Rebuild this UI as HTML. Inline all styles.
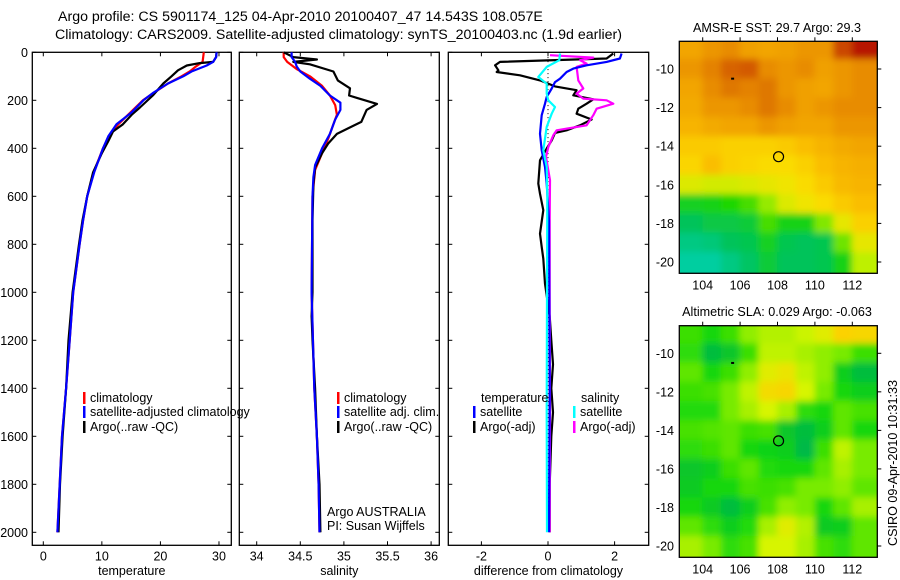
<!DOCTYPE html>
<html><head><meta charset="utf-8"><style>
html,body{margin:0;padding:0;background:#fff;}
svg{display:block;font-family:"Liberation Sans",sans-serif;}
text{fill:#000;}
</style></head><body>
<svg id="fig" width="900" height="580" viewBox="0 0 900 580" xmlns="http://www.w3.org/2000/svg">
<defs>
<filter id="smooth" x="-5%" y="-5%" width="110%" height="110%"><feGaussianBlur stdDeviation="3.5"/></filter>
<clipPath id="clipMap1"><rect x="680" y="41.5" width="197.5" height="232"/></clipPath>
<clipPath id="clipMap2"><rect x="680" y="326" width="197.5" height="231"/></clipPath>
</defs>
<text x="58" y="21" font-size="14.2">Argo profile: CS 5901174_125 04-Apr-2010 20100407_47 14.543S 108.057E</text>
<text x="55" y="39" font-size="14.2">Climatology: CARS2009. Satellite-adjusted climatology: synTS_20100403.nc (1.9d earlier)</text>
<g id="layer"></g>
<text x="777" y="32" font-size="12.6" text-anchor="middle">AMSR-E SST: 29.7 Argo: 29.3</text>
<text x="777" y="316" font-size="12.6" text-anchor="middle">Altimetric SLA: 0.029 Argo: -0.063</text>
<text transform="translate(897,463) rotate(-90)" font-size="12.6" text-anchor="middle">CSIRO 09-Apr-2010 10:31:33</text>
</svg>
<script>
// ---------- data ----------
const depthTicks = [0,200,400,600,800,1000,1200,1400,1600,1800,2000];
const tempTicks = [0,10,20,30];
const salTicks = [34,34.5,35,35.5,36];
const diffTicks = [-2,0,2];
const lonTicks = [104,106,108,110,112];
const latTicks = [-10,-12,-14,-16,-18,-20];

const tArgoDepth = [0,20,40,45,55,75,100,130,180,230,260,300,330,370,420,500,600,700,800,1000,1200,1400,1600,1800,2000];
const tArgo      = [29.6,29.5,29.0,26.7,24.5,23.0,21.9,20.5,18.7,16.5,15.1,13.6,11.9,11.1,10.0,8.5,7.5,6.7,6.1,5.0,4.3,3.9,3.3,2.85,2.6];
const tSatDepth  = [0,20,40,55,80,100,130,170,200,250,300,350,400,500,600,700,800,1000,1200,1400,1600,1800,2000];
const tSat       = [29.6,29.5,29.0,27.9,25.3,23.9,21.3,18.7,17.1,15.1,12.5,11.1,10.2,8.7,7.5,6.8,6.2,5.1,4.5,3.9,3.2,2.8,2.4];
const tClimDepth = [0,40,60,80,100,130,170,200,250,300,350,400,500,600,700,800,1000,1200,1400,1600,1800,2000];
const tClim      = [27.4,27.2,26.0,25.0,23.6,21.3,18.8,17.0,14.9,12.8,11.2,10.2,8.6,7.5,6.8,6.2,5.1,4.5,3.9,3.2,2.8,2.4];

const sArgoDepth = [0,20,30,40,50,80,117,150,180,190,215,240,290,320,340,380,420,480,550,700,1000,1100,1200,1400,1600,1800,2000];
const sArgo      = [34.31,34.42,34.69,34.42,34.61,34.88,34.93,35.07,35.06,35.15,35.38,35.26,35.2,35.03,34.92,34.82,34.75,34.67,34.65,34.64,34.64,34.63,34.64,34.67,34.69,34.72,34.73];
const sSatDepth  = [0,20,40,60,80,110,140,180,210,240,280,340,400,470,520,600,1000,1400,1600,1800,2000];
const sSat       = [34.40,34.40,34.44,34.46,34.50,34.61,34.73,34.84,34.96,34.96,34.90,34.84,34.75,34.67,34.65,34.64,34.63,34.66,34.69,34.71,34.72];
const sClimDepth = [0,20,40,70,100,140,180,220,260,300,360,420,490,600,1000,1400,1600,1800,2000];
const sClim      = [34.31,34.31,34.35,34.46,34.61,34.75,34.84,34.90,34.92,34.88,34.82,34.75,34.67,34.64,34.63,34.66,34.69,34.71,34.72];

const dTArgoDepth = [5,26,40,54,75,82,96,117,142,158,179,196,214,235,256,280,304,325,336,367,401,450,547,589,658,756,811,860,964,1100,1200,1300,1400,1500,1600,1800,2000];
const dTArgo      = [1.96,1.76,-1.44,-1.59,-1.49,-1.54,-0.84,-0.24,0.21,0.86,0.76,1.36,1.16,0.91,0.86,1.31,0.96,0.56,0.21,0.11,-0.04,-0.24,-0.29,-0.24,-0.14,-0.24,-0.19,-0.14,-0.09,0.05,0.1,0.15,0.1,0.15,0.1,0.05,0.05];
const dTSatDepth  = [5,26,40,54,68,82,110,124,151,186,214,262,339,408,478,547,700,1000,1400,2000];
const dTSat       = [2.21,2.16,1.76,1.16,0.76,0.56,0.36,0.21,0.11,-0.04,-0.09,-0.19,-0.24,-0.19,-0.09,-0.04,0.03,0.04,0.05,0.03];
const dSSatDepth  = [5,33,61,103,131,172,200,228,256,311,408,478,600,1000,1500,2000];
const dSSat       = [0.36,0.34,-0.04,-0.29,-0.04,-0.04,0.01,0.21,0.11,-0.04,-0.14,-0.04,-0.02,-0.03,-0.04,-0.03];
const dSArgoDepth = [12,22,33,47,61,117,151,172,193,200,214,235,262,304,325,346,395,436,533,700,1000,1500,2000];
const dSArgo      = [0.06,1.36,0.96,1.16,0.86,0.91,1.06,0.86,1.06,1.76,1.96,1.46,1.36,1.16,0.26,0.16,0.01,-0.06,0.06,0.05,0.05,0.06,0.05];

const mapLats = [-9,-10,-11,-12,-13,-14,-15,-16,-17,-18,-19,-20];
const mapLons = [103.5,104.5,105.5,106.5,107.5,108.5,109.5,110.5,111.5,112.5];
const sstGrid = [
 [4.3,4.5,4.6,4.4,4.3,4.4,4.5,4.5,5.3,5.8],
 [4.5,4.7,5.0,5.1,4.6,4.5,4.6,4.4,4.5,4.6],
 [4.3,4.6,4.8,4.7,4.8,4.5,4.4,4.3,4.5,4.6],
 [4.2,4.5,4.5,4.6,4.8,4.6,4.4,4.5,4.6,4.6],
 [4.0,4.2,4.3,4.3,4.5,4.4,4.3,4.3,4.5,4.5],
 [3.6,3.6,3.5,3.5,3.5,3.6,3.8,4.0,4.2,4.3],
 [3.4,3.8,3.5,3.4,3.3,3.3,3.5,3.8,4.0,4.1],
 [2.9,2.8,2.8,2.9,3.0,3.1,3.3,3.6,3.9,4.0],
 [1.5,1.6,1.8,2.0,2.4,2.9,3.1,3.3,3.6,3.8],
 [1.0,1.2,1.2,1.3,2.0,1.6,1.6,2.3,3.0,3.5],
 [0.6,0.7,1.0,1.1,1.5,1.1,1.0,1.1,2.2,3.0],
 [0.3,0.3,0.6,0.9,1.3,1.0,1.0,1.1,1.6,2.6]];
const slaGrid = [
 [1.5,1.2,1.5,2.2,2.5,2.5,2.7,3.0,3.8,3.5],
 [1.4,0.6,0.8,1.5,2.6,2.6,2.4,2.2,2.0,1.5],
 [1.8,1.2,1.5,2.2,3.0,3.2,2.6,2.2,1.0,0.6],
 [1.5,1.6,2.0,2.6,3.4,3.5,2.8,2.0,1.2,1.0],
 [1.3,1.3,2.0,2.4,2.8,2.4,1.4,1.2,1.8,1.6],
 [1.6,1.7,1.8,1.5,1.6,0.8,0.6,1.0,1.8,1.2],
 [1.4,1.5,1.8,1.2,1.1,1.0,0.5,1.5,2.6,2.0],
 [0.8,1.0,1.5,1.8,1.3,1.2,1.2,1.8,2.4,2.0],
 [0.9,1.2,1.2,1.6,1.5,1.6,2.0,2.0,2.2,1.8],
 [1.2,0.9,0.6,1.0,1.6,2.2,2.0,1.2,1.8,2.4],
 [1.8,1.4,1.0,1.3,2.4,3.0,2.5,0.9,1.0,1.8],
 [2.4,2.0,1.4,1.6,2.8,2.8,2.4,1.6,1.4,1.8]];
const floatLon = [108.057];
const floatLat = [-14.543];

// ---------- drawing ----------
const NS = 'http://www.w3.org/2000/svg';
const layer = document.getElementById('layer');
function mk(tag, attrs, parent) {
  const e = document.createElementNS(NS, tag);
  for (const k in attrs) e.setAttribute(k, attrs[k]);
  (parent || layer).appendChild(e);
  return e;
}
const yDepth = d => 52.3 + d * 0.24;
const panels = [
  {name:'temperature', x0:32.3, x1:231.3, sx:v => 43.3 + v*5.856, ticks:tempTicks, label:'temperature'},
  {name:'salinity', x0:239.3, x1:439.3, sx:v => 256.7 + (v-34)*87.2, ticks:salTicks, label:'salinity'},
  {name:'difference', x0:448.3, x1:648.7, sx:v => 548 + v*33.3, ticks:diffTicks, label:'difference from climatology'}
];
const pTop = 52.3, pBot = 545.3;
panels.forEach((p, i) => {
  const g = mk('g', {});
  
  
  const r = mk('rect', {x:p.x0, y:pTop, width:p.x1-p.x0, height:pBot-pTop, fill:'none', stroke:'#000', 'stroke-width':1.3}, g);
  
  
  depthTicks.forEach(d => {
    const y = yDepth(d);
    mk('line', {x1:p.x0, x2:p.x0+4, y1:y, y2:y, stroke:'#000'}, g);
    mk('line', {x1:p.x1, x2:p.x1-4, y1:y, y2:y, stroke:'#000'}, g);
    if (i === 0) {
      const t = mk('text', {x:28, y:y+4.5, 'font-size':12.5, 'text-anchor':'end'}, g);
      t.textContent = d;
      
      
    }
  });
  p.ticks.forEach(v => {
    const x = p.sx(v);
    mk('line', {x1:x, x2:x, y1:pBot, y2:pBot-4, stroke:'#000'}, g);
    mk('line', {x1:x, x2:x, y1:pTop, y2:pTop+4, stroke:'#000'}, g);
    const t = mk('text', {x:x, y:pBot+15, 'font-size':12.5, 'text-anchor':'middle'}, g);
    t.textContent = v;
    
    
  });
  const xl = mk('text', {x:(p.x0+p.x1)/2, y:575, 'font-size':12.5, 'text-anchor':'middle'}, g);
  xl.textContent = p.label;
  
  
});

function profile(pi, depths, vals, color, name) {
  const p = panels[pi];
  const pts = depths.map((d, k) => p.sx(vals[k]).toFixed(1) + ',' + yDepth(d).toFixed(1)).join(' ');
  const e = mk('polyline', {points:pts, fill:'none', stroke:color, 'stroke-width':2.2, 'stroke-linejoin':'round'});
  
  
}
const z = mk('line', {x1:panels[2].sx(0), x2:panels[2].sx(0), y1:yDepth(20), y2:yDepth(2000), stroke:'#000', 'stroke-dasharray':'1,3', 'stroke-width':1});



profile(0, tClimDepth, tClim, '#f00', 'temperature-climatology-line');
profile(0, tArgoDepth, tArgo, '#000', 'temperature-argo-line');
profile(0, tSatDepth, tSat, '#00f', 'temperature-satellite-line');
profile(1, sClimDepth, sClim, '#f00', 'salinity-climatology-line');
profile(1, sArgoDepth, sArgo, '#000', 'salinity-argo-line');
profile(1, sSatDepth, sSat, '#00f', 'salinity-satellite-line');
profile(2, dTArgoDepth, dTArgo, '#000', 'temp-argo-diff-line');
profile(2, dSArgoDepth, dSArgo, '#f0f', 'sal-argo-diff-line');
profile(2, dTSatDepth, dTSat, '#00f', 'temp-satellite-diff-line');
profile(2, dSSatDepth, dSSat, '#0ff', 'sal-satellite-diff-line');

function legendRow(x, y, color, label, name) {
  const g = mk('g', {});
  
  
  if (color) mk('rect', {x:x, y:y-10, width:2.5, height:12, fill:color}, g);
  const t = mk('text', {x:x+7, y:y, 'font-size':12.5}, g);
  t.textContent = label;
}
legendRow(83, 402, '#f00', 'climatology', 'legend-climatology');
legendRow(83, 416, '#00f', 'satellite-adjusted climatology', 'legend-satellite-adjusted');
legendRow(83, 431, '#000', 'Argo(..raw -QC)', 'legend-argo');
legendRow(337, 402, '#f00', 'climatology', 'legend-sal-climatology');
legendRow(337, 416, '#00f', 'satellite adj. clim.', 'legend-sal-satellite');
legendRow(337, 431, '#000', 'Argo(..raw -QC)', 'legend-sal-argo');
legendRow(474, 402, null, 'temperature', 'legend-temp-header');
legendRow(473, 416, '#00f', 'satellite', 'legend-temp-satellite');
legendRow(473, 431, '#000', 'Argo(-adj)', 'legend-temp-argo');
legendRow(574, 402, null, 'salinity', 'legend-sal-header');
legendRow(573, 416, '#0ff', 'satellite', 'legend-sal-satellite-diff');
legendRow(573, 431, '#f0f', 'Argo(-adj)', 'legend-sal-argo-diff');
const a1 = mk('text', {x:327, y:516, 'font-size':12.5});
a1.textContent = 'Argo AUSTRALIA';


const a2 = mk('text', {x:327, y:530, 'font-size':12.5});
a2.textContent = 'PI: Susan Wijffels';



// ---------- maps ----------
function lerpColor(stops, v) {
  if (v <= stops[0][0]) return 'rgb(' + stops[0][1].join(',') + ')';
  for (let i = 1; i < stops.length; i++) {
    if (v <= stops[i][0]) {
      const [v0,c0] = stops[i-1], [v1,c1] = stops[i];
      const t = (v - v0) / (v1 - v0);
      const c = c0.map((a, k) => Math.round(a + (c1[k]-a)*t));
      return 'rgb(' + c.join(',') + ')';
    }
  }
  return 'rgb(' + stops[stops.length-1][1].join(',') + ')';
}
const sstStops = [[0,[0,210,190]],[1,[0,195,90]],[1.8,[30,215,0]],[2.6,[190,240,0]],[3.2,[250,225,0]],[3.8,[250,190,0]],[4.4,[240,160,0]],[5.0,[215,100,0]],[6,[175,0,0]]];
const slaStops = [[0.5,[0,185,70]],[1.2,[20,215,10]],[2.0,[120,235,0]],[2.8,[215,245,0]],[3.6,[252,210,0]]];
function drawMap(grid, stops, y0, y1, lat10y, lat20y, clip, name) {
  const sxm = lon => 702.7 + (lon-104)*18.7;
  const sym = lat => lat10y + (lat + 10) * -(lat20y - lat10y) / 10;
  const g = mk('g', {'clip-path':'url(#' + clip + ')'});
  
  
  const gb = mk('g', {filter:'url(#smooth)'}, g);
  mapLats.forEach((lat, r) => {
    mapLons.forEach((lon, c) => {
      const extraL = c === 0 ? 12 : 0, extraR = c === mapLons.length-1 ? 12 : 0;
      const extraT = r === 0 ? 14 : 0, extraB = r === mapLats.length-1 ? 14 : 0;
      const x = sxm(lon-0.52) - extraL, w = sxm(lon+0.52) - sxm(lon-0.52) + extraL + extraR;
      const y = sym(lat+0.52) - extraT, h = sym(lat-0.52) - sym(lat+0.52) + extraT + extraB;
      const cell = mk('rect', {x:x.toFixed(1), y:y.toFixed(1), width:(w+0.8).toFixed(1), height:(h+0.8).toFixed(1), fill:lerpColor(stops, grid[r][c])}, gb);
      
      
    });
  });
  const fr = mk('rect', {x:679.3, y:y0, width:198, height:y1-y0, fill:'none', stroke:'#000', 'stroke-width':1.3});
  
  
  lonTicks.forEach(lon => {
    const x = sxm(lon);
    mk('line', {x1:x, x2:x, y1:y0, y2:y0-4, stroke:'#000'});
    const t = mk('text', {x:x, y:y1+16, 'font-size':12.5, 'text-anchor':'middle'});
    t.textContent = lon;
    
    
  });
  latTicks.forEach(lat => {
    const y = sym(lat);
    mk('line', {x1:877.3, x2:881.3, y1:y, y2:y, stroke:'#000'});
    const t = mk('text', {x:674, y:y+4.5, 'font-size':12.5, 'text-anchor':'end'});
    t.textContent = lat;
    
    
  });
  const m = mk('circle', {cx:sxm(floatLon[0]), cy:sym(floatLat[0]), r:5, fill:'none', stroke:'#000', 'stroke-width':1.2});
  
  
  const s = mk('rect', {x:sxm(105.6)-1.5, y:sym(-10.5)-1, width:3, height:2, fill:'#000'});
  
  
}
drawMap(sstGrid, sstStops, 41.3, 273.3, 69, 262, 'clipMap1', 'sst-map');
drawMap(slaGrid, slaStops, 325.7, 557.3, 353.3, 546, 'clipMap2', 'sla-map');
</script>
</body></html>
